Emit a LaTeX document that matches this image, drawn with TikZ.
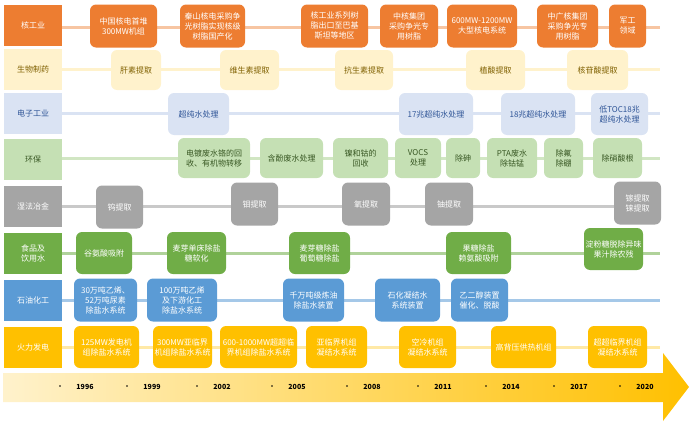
\documentclass[tikz,border=0pt]{standalone}
\usepackage{fontspec}
\setmainfont{Noto Sans CJK SC}
\usetikzlibrary{positioning}
\definecolor{cOr}{HTML}{ED7D31}
\definecolor{cYe}{HTML}{FFF2CC}
\definecolor{cLb}{HTML}{DAE3F3}
\definecolor{cLg}{HTML}{C5E0B4}
\definecolor{cGy}{HTML}{A5A5A5}
\definecolor{cGn}{HTML}{70AD47}
\definecolor{cBl}{HTML}{5B9BD5}
\definecolor{cAm}{HTML}{FFC000}
\definecolor{tYe}{HTML}{7F6000}
\definecolor{tLb}{HTML}{2F5597}
\definecolor{tLg}{HTML}{385723}
\tikzset{
  lab/.style={draw=none,fill=#1,minimum width=58pt,minimum height=41pt,inner sep=1pt,align=center,font=\fontsize{8}{10}\selectfont},
  ev/.style={draw=none,fill=#1,rounded corners=6pt,inner sep=1pt,align=center,font=\fontsize{8}{10}\selectfont},
  row/.style={line width=3pt,#1}
}
\begin{document}
\begin{tikzpicture}[x=1pt,y=-1pt]
\useasboundingbox (0,0) rectangle (693,423);
% row lines
\foreach \y/\c in {27/cOr!45,69/cYe,113/cLb,158/cLg!80,206/cGy!60,253/cGn!55,300/cBl!55,347/cAm!35}
  \draw[row=\c] (62,\y) -- (660,\y);
% labels
\node[lab=cOr,text=white] (l1) at (33,25) {核工业};
\node[lab=cYe,text=tYe] (l2) at (33,69) {生物制药};
\node[lab=cLb,text=tLb] (l3) at (33,113) {电子工业};
\node[lab=cLg,text=tLg] (l4) at (33,159) {环保};
\node[lab=cGy,text=white] (l5) at (33,206) {湿法冶金};
\node[lab=cGn,text=white] (l6) at (33,253) {食品及\\饮用水};
\node[lab=cBl,text=white] (l7) at (33,300) {石油化工};
\node[lab=cAm,text=white] (l8) at (33,347) {火力发电};
% nuclear
\foreach \xa/\xb/\txt [count=\i] in {90/157/{中国核电首堆\\300MW机组},180/245/{秦山核电采购争\\光树脂实现核级\\树脂国产化},301/368/{核工业系列树\\脂出口至巴基\\斯坦等地区},380/438/{中核集团\\采购争光专\\用树脂},447/517/{600MW-1200MW\\大型核电系统},537/598/{中广核集团\\采购争光专\\用树脂},609/646/{军工\\领域}}
  \node[ev=cOr,text=white,minimum width={(\xb-\xa)*1pt},minimum height=43pt] (n\i) at ({(\xa+\xb)/2},26) {\txt};
% pharma
\foreach \xa/\xb/\txt [count=\i] in {111/161/肝素提取,220/279/维生素提取,335/393/抗生素提取,466/525/植酸提取,567/628/核苷酸提取}
  \node[ev=cYe,text=tYe,minimum width={(\xb-\xa)*1pt},minimum height=40pt] (b\i) at ({(\xa+\xb)/2},70) {\txt};
% electronics
\foreach \xa/\xb/\txt [count=\i] in {168/229/超纯水处理,399/473/17兆超纯水处理,501/575/18兆超纯水处理,591/648/{低TOC18兆\\超纯水处理}}
  \node[ev=cLb,text=tLb,minimum width={(\xb-\xa)*1pt},minimum height=42pt] (e\i) at ({(\xa+\xb)/2},114) {\txt};
% environment
\foreach \xa/\xb/\txt [count=\i] in {178/250/{电镀废水铬的回\\收、有机物转移},260/323/含酚废水处理,333/388/{镍和钴的\\回收},395/441/{VOCS\\处理},446/480/除砷,487/537/{PTA废水\\除钴锰},544/583/{除氟\\除硼},593/642/除硝酸根}
  \node[ev=cLg,text=tLg,minimum width={(\xb-\xa)*1pt},minimum height=40pt] (h\i) at ({(\xa+\xb)/2},158) {\txt};
% hydrometallurgy
\foreach \xa/\xb/\xy/\txt [count=\i] in {96/143/207/钨提取,231/278/204/钼提取,342/390/204/氧提取,425/473/204/铀提取,614/661/203/{镓提取\\铼提取}}
  \node[ev=cGy,text=white,minimum width={(\xb-\xa)*1pt},minimum height=43pt] (s\i) at ({(\xa+\xb)/2},\xy) {\txt};
% food
\foreach \xa/\xb/\xy/\txt [count=\i] in {76/132/253/谷氨酸吸附,167/226/253/{麦芽单床除盐\\糖软化},289/350/253/{麦芽糖除盐\\葡萄糖除盐},446/511/253/{果糖除盐\\赖氨酸吸附},584/643/249/{淀粉糖脱除异味\\果汁除农残}}
  \node[ev=cGn,text=white,minimum width={(\xb-\xa)*1pt},minimum height=42pt] (f\i) at ({(\xa+\xb)/2},\xy) {\txt};
% petrochemical
\foreach \xa/\xb/\txt [count=\i] in {74/137/{30万吨乙烯、\\52万吨尿素\\除盐水系统},147/217/{100万吨乙烯\\及下游化工\\除盐水系统},283/344/{千万吨级炼油\\除盐水装置},375/440/{石化凝结水\\系统装置},451/508/{乙二醇装置\\催化、脱酸}}
  \node[ev=cBl,text=white,minimum width={(\xb-\xa)*1pt},minimum height=43pt] (p\i) at ({(\xa+\xb)/2},300) {\txt};
% thermal power
\foreach \xa/\xb/\txt [count=\i] in {74/139/{125MW发电机\\组除盐水系统},153/212/{300MW亚临界\\机组除盐水系统},220/297/{600-1000MW超超临\\界机组除盐水系统},306/367/{亚临界机组\\凝结水系统},399/456/{空冷机组\\凝结水系统},491/556/高背压供热机组,588/647/{超超临界机组\\凝结水系统}}
  \node[ev=cAm,text=white,minimum width={(\xb-\xa)*1pt},minimum height=42pt] (t\i) at ({(\xa+\xb)/2},347) {\txt};
% timeline
\shade[left color=cYe,right color=cAm] (3,373) -- (663,373) -- (663,353) -- (689,387) -- (663,421) -- (663,402) -- (3,402) -- cycle;
\foreach \x/\yr in {85/1996,152/1999,222/2002,297/2005,372/2008,443/2011,511/2014,579/2017,645/2020}{
  \fill (\x-25,386) circle (0.9);
  \node[font=\fontsize{7}{8}\selectfont\bfseries] (y\yr) at (\x,387) {\yr};
}
\end{tikzpicture}
\end{document}
